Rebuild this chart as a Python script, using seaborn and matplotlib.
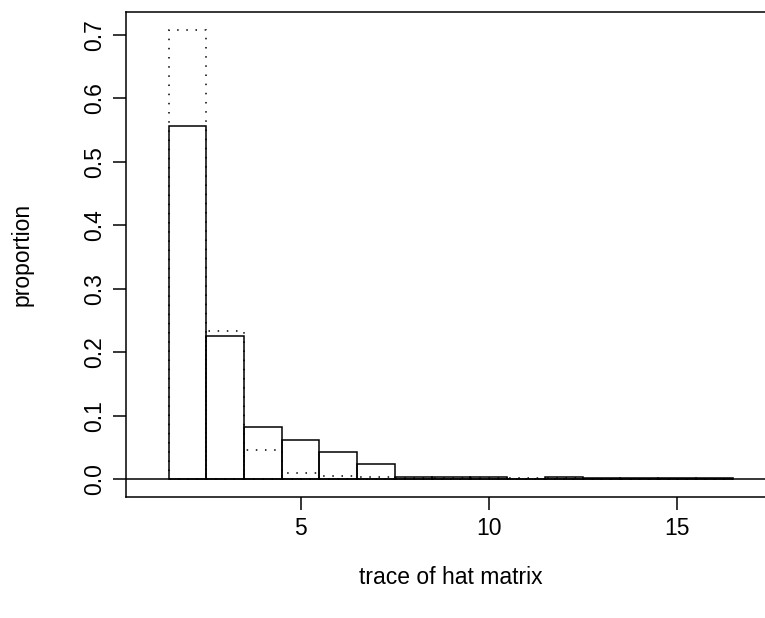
import matplotlib
matplotlib.use("Agg")
import matplotlib.pyplot as plt
import seaborn as sns
import pandas as pd

# data
trace = [2, 3, 4, 5, 6, 7, 8, 9, 10, 11, 12, 13, 14, 15, 16]
prop_solid = [0.556, 0.225, 0.082, 0.061, 0.042, 0.024, 0.003, 0.003, 0.003, 0.0,
              0.003, 0.001, 0.001, 0.001, 0.001]
prop_dotted = [0.707, 0.233, 0.045, 0.009, 0.005, 0.0027, 0.001, 0.001, 0.001, 0.001,
               0.001, 0.0005, 0.0005, 0.0005, 0.0005]
x_ticks = [5, 10, 15]
y_ticks = [0.0, 0.1, 0.2, 0.3, 0.4, 0.5, 0.6, 0.7]
x_label = "trace of hat matrix"
y_label = "proportion"

sns.set_style("white")
plt.rcParams["font.family"] = ["Liberation Sans", "DejaVu Sans"]
plt.rcParams.update({"text.color": "black", "axes.labelcolor": "black",
                     "xtick.color": "black", "ytick.color": "black"})

df = pd.DataFrame({"trace": trace, "solid": prop_solid, "dotted": prop_dotted})

fig = plt.figure(figsize=(7.65, 6.18), dpi=100)
W, H = 765, 618
left, right, top, bottom = 126, 776, 12, 497
ax = fig.add_axes([left / W, (H - bottom) / H, (right - left) / W, (bottom - top) / H])

sns.barplot(data=df, x="trace", y="solid", native_scale=True, width=1,
            fill=False, color="black", linewidth=1.1, errorbar=None, ax=ax)
sns.barplot(data=df, x="trace", y="dotted", native_scale=True, width=1,
            fill=False, color="black", linewidth=1.1, errorbar=None,
            linestyle=(0, (1, 5)), ax=ax)

ax.axhline(0, color="black", linewidth=1.1)

ax.set_xlim(0.36, 17.64)
ax.set_ylim(-0.0283, 0.7358)
ax.set_xticks(x_ticks)
ax.set_xticklabels([str(t) for t in x_ticks])
ax.set_yticks(y_ticks)
ax.set_yticklabels([f"{t:.1f}" for t in y_ticks], rotation=90, va="center")

ax.tick_params(axis="both", direction="out", length=9.4, width=1.1, color="black",
               labelcolor="black", labelsize=16.5, pad=5, bottom=True, left=True)
for s in ax.spines.values():
    s.set_visible(True)
    s.set_color("black")
    s.set_linewidth(1.1)

ax.set_xlabel(x_label, fontsize=16.5, color="black")
ax.set_ylabel(y_label, fontsize=16.5, color="black")
ax.xaxis.set_label_coords(0.5, -(578 - bottom) / (bottom - top))
ax.yaxis.set_label_coords(-(left - 22) / (right - left), 0.5)
ax.xaxis.label.set_va("center")
ax.yaxis.label.set_va("center")

fig.savefig("out.png", dpi=100)
